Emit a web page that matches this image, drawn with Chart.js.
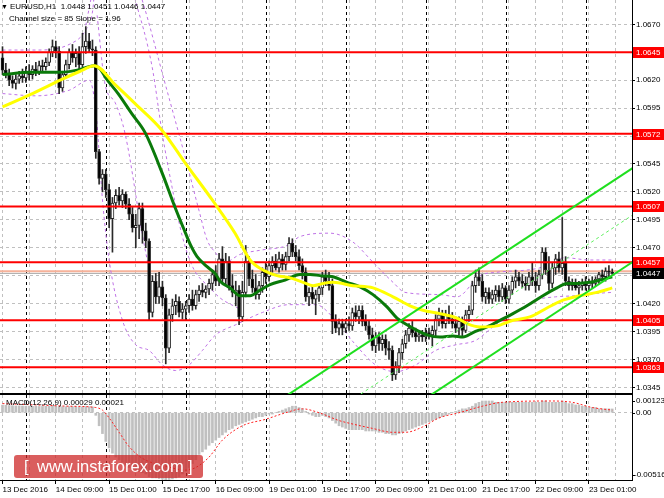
<!DOCTYPE html>
<html><head><meta charset="utf-8">
<script src="https://cdn.jsdelivr.net/npm/chart.js@4.4.0/dist/chart.umd.min.js"></script>
<style>
html,body{margin:0;padding:0;background:#fff;overflow:hidden;}
#wrap{position:relative;width:664px;height:498px;font-family:"Liberation Sans",Arial,sans-serif;}
canvas{position:absolute;left:0;}
#main{top:0;}
#macd{top:394px;}
.t{position:absolute;font-size:8px;line-height:10px;color:#000;white-space:pre;}
#wm{position:absolute;left:14px;top:455px;width:189px;height:23px;border-radius:3px;background:rgba(205,40,40,0.75);color:#fff;font-size:16.5px;line-height:23px;white-space:pre;}
</style></head>
<body><div id="wrap">
<canvas id="main" width="664" height="395"></canvas>
<canvas id="macd" width="664" height="104"></canvas>
<div class="t" style="left:1px;top:2px;font-size:7px;">▼</div>
<div class="t" style="left:10px;top:2px;">EURUSD,H1  1.0448 1.0451 1.0446 1.0447</div>
<div class="t" style="left:9px;top:14px;">Channel size = 85 Slope = 1.96</div>
<div class="t" style="left:6px;top:398px;">MACD(12,26,9) 0.00029 0.00021</div>
<div id="wm"><span style="position:absolute;left:10px;">[</span><span style="position:absolute;left:23px;">www.instaforex.com</span><span style="position:absolute;left:174px;">]</span></div>
</div>
<script>
// ---------- DATA ----------
const opens = [
1.0640,1.0629,1.0626,1.0620,1.0617,1.0621,1.0624,1.0622,1.0628,1.0625,
1.0630,1.0627,1.0633,1.0632,1.0636,1.0645,1.0650,1.0646,1.0613,1.0625,
1.0634,1.0645,1.0640,1.0644,1.0634,1.0650,1.0655,1.0648,1.0647,1.0556,
1.0532,1.0536,1.0522,1.0496,1.0510,1.0517,1.0512,1.0518,1.0509,1.0500,
1.0488,1.0490,1.0505,1.0485,1.0476,1.0412,1.0440,1.0426,1.0435,1.0425,
1.0380,1.0410,1.0418,1.0422,1.0412,1.0415,1.0418,1.0424,1.0418,1.0428,
1.0432,1.0430,1.0433,1.0438,1.0446,1.0440,1.0460,1.0442,1.0458,1.0436,
1.0430,1.0432,1.0408,1.0430,1.0458,1.0442,1.0434,1.0428,1.0436,1.0448,
1.0444,1.0454,1.0458,1.0452,1.0460,1.0455,1.0462,1.0474,1.0466,1.0462,
1.0454,1.0448,1.0426,1.0430,1.0424,1.0428,1.0434,1.0444,1.0440,1.0436,
1.0404,1.0398,1.0402,1.0398,1.0402,1.0400,1.0412,1.0408,1.0414,1.0404,
1.0400,1.0392,1.0382,1.0390,1.0384,1.0388,1.0380,1.0378,1.0356,1.0364,
1.0376,1.0384,1.0392,1.0398,1.0394,1.0390,1.0392,1.0390,1.0394,1.0392,
1.0396,1.0406,1.0410,1.0402,1.0410,1.0406,1.0402,1.0398,1.0404,1.0396,
1.0410,1.0414,1.0436,1.0444,1.0440,1.0426,1.0430,1.0424,1.0428,1.0432,
1.0426,1.0434,1.0424,1.0432,1.0440,1.0444,1.0440,1.0438,1.0436,1.0444,
1.0440,1.0436,1.0446,1.0466,1.0450,1.0438,1.0452,1.0460,1.0452,1.0456,
1.0440,1.0436,1.0438,1.0434,1.0436,1.0438,1.0436,1.0440,1.0438,1.0442,
1.0446,1.0444,1.0449,1.0448];
const highs = [
1.0650,1.0635,1.0630,1.0624,1.0625,1.0628,1.0630,1.0632,1.0634,1.0633,
1.0636,1.0637,1.0638,1.0640,1.0648,1.0656,1.0655,1.0650,1.0628,1.0638,
1.0648,1.0652,1.0648,1.0650,1.0662,1.0668,1.0662,1.0656,1.0650,1.0558,
1.0540,1.0540,1.0527,1.0515,1.0522,1.0524,1.0522,1.0520,1.0514,1.0506,
1.0500,1.0510,1.0510,1.0492,1.0478,1.0445,1.0447,1.0448,1.0440,1.0428,
1.0415,1.0424,1.0428,1.0426,1.0420,1.0422,1.0428,1.0432,1.0432,1.0436,
1.0438,1.0436,1.0442,1.0450,1.0454,1.0465,1.0471,1.0465,1.0462,1.0446,
1.0440,1.0436,1.0440,1.0472,1.0462,1.0450,1.0446,1.0440,1.0452,1.0456,
1.0458,1.0462,1.0464,1.0466,1.0464,1.0466,1.0479,1.0478,1.0472,1.0468,
1.0460,1.0452,1.0434,1.0436,1.0432,1.0438,1.0448,1.0450,1.0448,1.0442,
1.0410,1.0406,1.0406,1.0406,1.0408,1.0416,1.0418,1.0418,1.0418,1.0410,
1.0404,1.0398,1.0394,1.0394,1.0392,1.0392,1.0386,1.0382,1.0368,1.0380,
1.0388,1.0396,1.0402,1.0404,1.0398,1.0396,1.0396,1.0398,1.0398,1.0400,
1.0410,1.0416,1.0414,1.0414,1.0418,1.0412,1.0408,1.0408,1.0408,1.0414,
1.0418,1.0440,1.0450,1.0452,1.0446,1.0434,1.0434,1.0432,1.0436,1.0436,
1.0438,1.0436,1.0436,1.0444,1.0450,1.0448,1.0446,1.0444,1.0448,1.0456,
1.0448,1.0450,1.0470,1.0470,1.0462,1.0456,1.0464,1.0466,1.0497,1.0462,
1.0444,1.0442,1.0442,1.0440,1.0442,1.0444,1.0442,1.0444,1.0444,1.0448,
1.0450,1.0452,1.0454,1.0451];
const lows = [
1.0625,1.0622,1.0615,1.0613,1.0612,1.0617,1.0618,1.0618,1.0620,1.0621,
1.0624,1.0625,1.0628,1.0629,1.0633,1.0641,1.0640,1.0608,1.0610,1.0622,
1.0630,1.0636,1.0632,1.0630,1.0632,1.0644,1.0645,1.0642,1.0550,1.0527,
1.0520,1.0515,1.0488,1.0466,1.0505,1.0508,1.0506,1.0505,1.0495,1.0484,
1.0470,1.0478,1.0474,1.0470,1.0405,1.0408,1.0420,1.0420,1.0418,1.0366,
1.0376,1.0404,1.0410,1.0408,1.0406,1.0405,1.0412,1.0414,1.0415,1.0422,
1.0426,1.0425,1.0428,1.0432,1.0436,1.0436,1.0438,1.0436,1.0432,1.0426,
1.0418,1.0401,1.0404,1.0426,1.0436,1.0430,1.0424,1.0424,1.0430,1.0438,
1.0440,1.0448,1.0450,1.0448,1.0450,1.0450,1.0458,1.0462,1.0458,1.0450,
1.0442,1.0422,1.0418,1.0420,1.0410,1.0422,1.0428,1.0436,1.0432,1.0393,
1.0394,1.0392,1.0392,1.0394,1.0396,1.0396,1.0404,1.0402,1.0400,1.0396,
1.0388,1.0378,1.0376,1.0378,1.0378,1.0374,1.0370,1.0351,1.0352,1.0358,
1.0370,1.0380,1.0386,1.0390,1.0386,1.0386,1.0386,1.0386,1.0388,1.0382,
1.0390,1.0400,1.0398,1.0398,1.0402,1.0398,1.0394,1.0392,1.0390,1.0394,
1.0404,1.0410,1.0430,1.0436,1.0422,1.0420,1.0420,1.0420,1.0422,1.0422,
1.0422,1.0420,1.0420,1.0428,1.0434,1.0436,1.0434,1.0432,1.0432,1.0436,
1.0430,1.0432,1.0442,1.0446,1.0432,1.0434,1.0446,1.0448,1.0446,1.0436,
1.0432,1.0432,1.0432,1.0428,1.0432,1.0432,1.0432,1.0434,1.0436,1.0438,
1.0440,1.0440,1.0444,1.0446];
const closes = [
1.0629,1.0626,1.0620,1.0617,1.0621,1.0624,1.0622,1.0628,1.0625,1.0630,
1.0627,1.0633,1.0632,1.0636,1.0645,1.0650,1.0646,1.0613,1.0625,1.0634,
1.0645,1.0640,1.0644,1.0634,1.0650,1.0655,1.0648,1.0647,1.0556,1.0532,
1.0536,1.0522,1.0496,1.0510,1.0517,1.0512,1.0518,1.0509,1.0500,1.0488,
1.0490,1.0505,1.0485,1.0476,1.0412,1.0440,1.0426,1.0435,1.0425,1.0380,
1.0410,1.0418,1.0422,1.0412,1.0415,1.0418,1.0424,1.0418,1.0428,1.0432,
1.0430,1.0433,1.0438,1.0446,1.0440,1.0460,1.0442,1.0458,1.0436,1.0430,
1.0432,1.0408,1.0430,1.0458,1.0442,1.0434,1.0428,1.0436,1.0448,1.0444,
1.0454,1.0458,1.0452,1.0460,1.0455,1.0462,1.0474,1.0466,1.0462,1.0454,
1.0448,1.0426,1.0430,1.0424,1.0428,1.0434,1.0444,1.0440,1.0436,1.0404,
1.0398,1.0402,1.0398,1.0402,1.0400,1.0412,1.0408,1.0414,1.0404,1.0400,
1.0392,1.0382,1.0390,1.0384,1.0388,1.0380,1.0378,1.0356,1.0364,1.0376,
1.0384,1.0392,1.0398,1.0394,1.0390,1.0392,1.0390,1.0394,1.0392,1.0396,
1.0406,1.0410,1.0402,1.0410,1.0406,1.0402,1.0398,1.0404,1.0396,1.0410,
1.0414,1.0436,1.0444,1.0440,1.0426,1.0430,1.0424,1.0428,1.0432,1.0426,
1.0434,1.0424,1.0432,1.0440,1.0444,1.0440,1.0438,1.0436,1.0444,1.0440,
1.0436,1.0446,1.0466,1.0450,1.0438,1.0452,1.0460,1.0452,1.0456,1.0440,
1.0436,1.0438,1.0434,1.0436,1.0438,1.0436,1.0440,1.0438,1.0442,1.0446,
1.0444,1.0449,1.0448,1.0447];

const xTickBars = [0,16,32,48,64,80,96,112,128,144,160,176];
const xTickLabels = ['13 Dec 2016','14 Dec 09:00','15 Dec 01:00','15 Dec 17:00','16 Dec 09:00','19 Dec 01:00',
  '19 Dec 17:00','20 Dec 09:00','21 Dec 01:00','21 Dec 17:00','22 Dec 09:00','23 Dec 01:00'];
const daySeparators = [7,31,55,79,103,127,151,175];
const priceTicks = [1.0345,1.0370,1.0395,1.0420,1.0445,1.0470,1.0495,1.0520,1.0545,1.0570,1.0595,1.0620,1.0645,1.0670];
const levels = [1.0645,1.0572,1.0507,1.0457,1.0405,1.0363];
const bidPrice = 1.0447;
const askPrice = 1.0449;

const maGreen = [[0,1.0625],[8.3,1.0627],[17.3,1.0627],[22.4,1.0629],[27.5,1.0633],[29.3,1.0630],[31,1.0622],[34.7,1.0608],
 [38.8,1.0590],[42.8,1.0573],[47.9,1.0537],[51.8,1.0506],[54.8,1.0484],[56.5,1.0472],[58.4,1.0462],[61.4,1.0453],
 [63.8,1.0447],[65.3,1.0440],[68.3,1.0434],[71.3,1.0427],[74.3,1.0427],[77.3,1.0432],[80.3,1.0437],[84.8,1.0441],[89.3,1.0446],
 [92.3,1.0446],[95.3,1.0445],[99.2,1.0444],[103.4,1.0439],[107.3,1.0435],[111.2,1.0428],[115.4,1.0417],[118.4,1.0407],[121.4,1.0401],
 [124.4,1.0396],[127.4,1.0392],[131.3,1.0390],[135.2,1.0391],[138.2,1.0390],[141.2,1.0394],[145.4,1.0399],[149.3,1.0405],[153.2,1.0411],
 [157.4,1.0418],[162.2,1.0427],[166.4,1.0434],[169.4,1.0438],[172.4,1.0438],[176.3,1.0439],[179.3,1.0441],[183,1.0444]];
const maYellow = [[0,1.0596],[8.3,1.0607],[17.3,1.0620],[23.3,1.0628],[27.5,1.0633],[33.8,1.0616],[39.8,1.0599],[47.9,1.0575],
 [54.8,1.0546],[62.9,1.0513],[69.8,1.0483],[74.3,1.0459],[78.2,1.0450],[82.4,1.0445],[86.3,1.0443],
 [90.2,1.0439],[93.2,1.0436],[96.2,1.0438],[99.2,1.0439],[105.2,1.0436],[111.2,1.0434],[117.2,1.0426],[122.3,1.0418],[126.2,1.0414],
 [131.3,1.0411],[136.4,1.0407],[139.4,1.0402],[143.3,1.0399],[148.4,1.0400],[153.2,1.0405],[158.3,1.0408],[163.4,1.0416],
 [168.2,1.0423],[173.3,1.0427],[178.4,1.0430],[183,1.0434]];
const bandUpper = [[0,1.0647],[10,1.0647],[20,1.0652],[25,1.0665],[27,1.0681],[28,1.0710],[32,1.0740],[38,1.0725],[41.9,1.0692],
 [48.8,1.0617],[55.1,1.0548],[59.0,1.0503],[61.4,1.0477],[63.8,1.0466],[66.8,1.0457],[71.3,1.0464],[77.9,1.0468],
 [85.4,1.0472],[89.3,1.0480],[98.3,1.0483],[105.2,1.0475],[111.2,1.0457],[117.2,1.0439],[120.8,1.0430],[131.3,1.0428],[136.4,1.0426],
 [143.3,1.0445],[148.4,1.0448],[157.4,1.0450],[161.3,1.0452],[168.8,1.0461],[176.3,1.0459],[183,1.0459]];
const bandUpper2 = [[25,1.0669],[26.5,1.0692],[29,1.0730],[34,1.0745],[39.8,1.0692],[44.9,1.0632],[47.9,1.0573],[50.9,1.0524],
 [53.9,1.0481],[57.2,1.0452],[62.3,1.0434],[65.3,1.0425],[71.3,1.0415]];
const bandInner = [[28.4,1.0678],[30.8,1.0616],[33.8,1.0600],[36.8,1.0572],[41.9,1.0483],[44,1.0450]];
const bandLower = [[0,1.0608],[10,1.0606],[20,1.0611],[26,1.0620],[28,1.0593],[30,1.0513],[32,1.0459],[36,1.0405],[40,1.0383],
 [44,1.0378],[48,1.0365],[52,1.0360],[56,1.0365],[60,1.0378],[64,1.0392],[70,1.0401],[78,1.0412],[86,1.0419],[94,1.0419],
 [100,1.0405],[106,1.0383],[112,1.0365],[118,1.0359],[124,1.0365],[130,1.0378],[136,1.0383],[142,1.0387],[148,1.0401],
 [154,1.0412],[160,1.0423],[166,1.0426],[172,1.0427],[178,1.0429],[183,1.0430]];
const channelUpper = [[84,1.0335],[190,1.0543]];
const channelMid = [[106,1.0336],[190,1.0501]];
const channelLower = [[128,1.0337],[190,1.0459]];

const macdHist = [
0.00058,0.00057,0.00055,0.00054,0.00052,0.00052,0.00051,0.00050,0.00050,0.00049,
0.00049,0.00048,0.00048,0.00049,0.00051,0.00053,0.00052,0.00047,0.00046,0.00046,
0.00047,0.00047,0.00046,0.00044,0.00045,0.00047,0.00046,0.00044,-0.00020,-0.00100,
-0.00160,-0.00220,-0.00270,-0.00310,-0.00340,-0.00360,-0.00380,-0.00400,-0.00420,-0.00430,
-0.00440,-0.00450,-0.00460,-0.00470,-0.00490,-0.00500,-0.00500,-0.00505,-0.00510,-0.00516,
-0.00512,-0.00508,-0.00500,-0.00490,-0.00470,-0.00450,-0.00420,-0.00390,-0.00360,-0.00320,
-0.00300,-0.00280,-0.00250,-0.00230,-0.00210,-0.00190,-0.00170,-0.00150,-0.00130,-0.00120,
-0.00100,-0.00090,-0.00080,-0.00070,-0.00060,-0.00050,-0.00040,-0.00030,-0.00030,-0.00020,
-0.00010,-0.00010,0.00000,0.00010,0.00020,0.00030,0.00040,0.00050,0.00050,0.00040,
0.00030,0.00010,-0.00010,-0.00020,-0.00030,-0.00030,-0.00020,-0.00030,-0.00040,-0.00060,
-0.00080,-0.00100,-0.00110,-0.00120,-0.00130,-0.00130,-0.00130,-0.00130,-0.00130,-0.00140,
-0.00140,-0.00140,-0.00140,-0.00150,-0.00150,-0.00160,-0.00160,-0.00170,-0.00170,-0.00160,
-0.00150,-0.00140,-0.00130,-0.00120,-0.00110,-0.00100,-0.00090,-0.00080,-0.00070,-0.00060,
-0.00050,-0.00040,-0.00030,-0.00020,-0.00010,0.00000,0.00010,0.00020,0.00030,0.00030,
0.00040,0.00050,0.00070,0.00080,0.00090,0.00090,0.00090,0.00090,0.00080,0.00080,
0.00080,0.00080,0.00080,0.00080,0.00080,0.00080,0.00080,0.00080,0.00080,0.00080,
0.00080,0.00080,0.00090,0.00090,0.00080,0.00080,0.00080,0.00080,0.00090,0.00080,
0.00070,0.00070,0.00060,0.00060,0.00050,0.00050,0.00040,0.00040,0.00040,0.00030,
0.00030,0.00030,0.00030,0.00029];
const macdSignal = [[0,0.0007],[10,0.0006],[20,0.0005],[28,0.0004],[30,0.0002],[32,-0.0004],[35,-0.0015],[38,-0.0026],
 [42,-0.0035],[49,-0.0041],[55,-0.0044],[58,-0.0042],[62,-0.0034],[66,-0.0021],[72,-0.0010],[79,-0.0005],[85,0.0000],
 [90,0.0003],[95,0.0000],[101,-0.0006],[104,-0.0008],[111,-0.0012],[117,-0.0015],[121,-0.0015],[126,-0.0011],[131,-0.0004],
 [137,0.0000],[144,0.0005],[150,0.0008],[165,0.0009],[171,0.0008],[177,0.0004],[183,0.0002]];
const macdAxisValues = [0.00123, 0, -0.00516];

// ---------- LAYOUT CONSTANTS ----------
const XMIN = -0.75, XMAX = 188.93;
const YMIN = 1.0339, YMAX = 1.06918;
const MMIN = -0.00516, MMAX = 0.00136;
const gridBars = [];
for (let b = 0; b <= 184; b += 8) gridBars.push(b);

Chart.defaults.font.family = '"Liberation Sans", Arial, sans-serif';
Chart.defaults.font.size = 8;
Chart.defaults.color = '#000';

const daySepPlugin = {
  id: 'daysep',
  beforeDatasetsDraw(chart) {
    const {ctx, chartArea: a, scales: {x}} = chart;
    ctx.save();
    ctx.strokeStyle = '#000'; ctx.lineWidth = 1; ctx.setLineDash([3, 3]);
    daySeparators.forEach(b => {
      const px = Math.round(x.getPixelForValue(b)) + 0.5;
      ctx.beginPath(); ctx.moveTo(px, a.top); ctx.lineTo(px, a.bottom); ctx.stroke();
    });
    ctx.restore();
  }
};

const priceLabelPlugin = {
  id: 'pricelabels',
  afterDraw(chart) {
    const {ctx, chartArea: a, scales: {y}} = chart;
    const left = a.right + 1;
    ctx.save();
    ctx.font = '8px "Liberation Sans"';
    ctx.textBaseline = 'middle';
    levels.forEach(l => {
      const py = Math.round(y.getPixelForValue(l));
      ctx.fillStyle = '#ff0000'; ctx.fillRect(left, py - 5, 664 - left, 11);
      ctx.fillStyle = '#fff'; ctx.fillText(l.toFixed(4), left + 3, py + 0.5);
    });
    const pb = Math.round(y.getPixelForValue(bidPrice));
    ctx.fillStyle = '#000'; ctx.fillRect(left, pb - 5, 664 - left, 11);
    ctx.fillStyle = '#fff'; ctx.fillText(bidPrice.toFixed(4), left + 3, pb + 0.5);
    ctx.restore();
  }
};

const macdLabelPlugin = {
  id: 'macdlabels',
  afterDraw(chart) {
    const {ctx, chartArea: a, scales: {y}} = chart;
    ctx.save();
    ctx.font = '8px "Liberation Sans"';
    ctx.textBaseline = 'middle';
    ctx.fillStyle = '#000';
    macdAxisValues.forEach(v => {
      let py = y.getPixelForValue(v);
      py = Math.min(Math.max(py, a.top + 6), a.bottom - 5);
      const txt = v === 0 ? '0.00' : v.toFixed(5);
      ctx.fillText(txt, a.right + (v < 0 ? 2 : 4), py);
      ctx.fillRect(a.right, Math.round(py), 3, 1);
    });
    ctx.restore();
  }
};

const lineDS = (pts, color, width, dash, order, extra) => Object.assign({
  type: 'line', data: pts.map(p => ({x: p[0], y: p[1]})), borderColor: color, borderWidth: width,
  borderDash: dash || [], pointRadius: 0, fill: false, tension: 0.4, cubicInterpolationMode: 'monotone', order: order
}, extra || {});

const idx = closes.map((_, i) => i);
const datasets = [];
levels.forEach(l => datasets.push(lineDS([[XMIN, l], [XMAX, l]], '#ff0000', 2, null, 3, {tension: 0})));
datasets.push(lineDS([[XMIN, askPrice], [XMAX, askPrice]], '#f6b29a', 2, null, 9, {tension: 0}));
datasets.push(lineDS([[XMIN, bidPrice], [XMAX, bidPrice]], '#a8a8a8', 1, null, 9, {tension: 0}));
const bandColor = '#bf72e6';
datasets.push(lineDS(bandUpper, bandColor, 1, [3, 3], 8));
datasets.push(lineDS(bandUpper2, bandColor, 1, [3, 3], 8));
datasets.push(lineDS(bandInner, bandColor, 1, [3, 3], 8));
datasets.push(lineDS(bandLower, bandColor, 1, [3, 3], 8));
datasets.push({
  type: 'bar', data: idx.map(i => ({x: i, y: [lows[i], highs[i]]})), backgroundColor: '#2a2a2a',
  maxBarThickness: 1, barPercentage: 1, categoryPercentage: 1, grouped: false, order: 6
});
datasets.push({
  type: 'bar', data: idx.map(i => ({x: i, y: [opens[i], closes[i]]})),
  backgroundColor: idx.map(i => closes[i] >= opens[i] ? '#ffffff' : '#000000'),
  borderColor: '#222', borderWidth: 1, borderSkipped: false,
  maxBarThickness: 3, barPercentage: 1, categoryPercentage: 1, grouped: false, order: 5
});
datasets.push(lineDS(maYellow, '#ffff00', 3, null, 2));
datasets.push(lineDS(maGreen, '#0a7a0a', 3, null, 2));
datasets.push(lineDS(channelMid, '#5cef5c', 1, [3, 3], 1, {tension: 0}));
datasets.push(lineDS(channelUpper, '#1fdf1f', 2, null, 1, {tension: 0}));
datasets.push(lineDS(channelLower, '#1fdf1f', 2, null, 1, {tension: 0}));

new Chart(document.getElementById('main'), {
  type: 'bar',
  data: {datasets},
  options: {
    responsive: false, animation: false, devicePixelRatio: 1,
    layout: {padding: 0},
    plugins: {legend: {display: false}, tooltip: {enabled: false}},
    scales: {
      x: {
        type: 'linear', min: XMIN, max: XMAX, offset: false,
        afterBuildTicks: s => { s.ticks = gridBars.map(v => ({value: v})); },
        ticks: {display: false},
        grid: {offset: false, color: '#c0c0c0', drawTicks: false},
        border: {display: true, color: '#000', width: 2, dash: [3, 3]},
        afterFit: s => { s.height = 1; s.paddingLeft = 0; s.paddingRight = 0; }
      },
      y: {
        position: 'right', min: YMIN, max: YMAX,
        afterBuildTicks: s => { s.ticks = priceTicks.map(v => ({value: v})); },
        ticks: {callback: v => Number(v).toFixed(4), padding: 1, autoSkip: false, font: {size: 8}, color: '#000'},
        grid: {color: '#c0c0c0', tickColor: '#000', tickLength: 3},
        border: {display: true, color: '#000', width: 1, dash: [3, 3]},
        afterFit: s => { s.width = 32; s.paddingTop = 0; s.paddingBottom = 0; }
      }
    }
  },
  plugins: [daySepPlugin, priceLabelPlugin]
});

new Chart(document.getElementById('macd'), {
  type: 'bar',
  data: {datasets: [
    lineDS(macdSignal, '#ff2020', 1, [2, 2], 1),
    {type: 'bar', data: macdHist.map((v, i) => ({x: i, y: v})), backgroundColor: '#c0c0c0',
     maxBarThickness: 2, barPercentage: 1, categoryPercentage: 1, grouped: false, order: 2}
  ]},
  options: {
    responsive: false, animation: false, devicePixelRatio: 1,
    layout: {padding: {top: 1, left: 0, right: 0, bottom: 0}},
    plugins: {legend: {display: false}, tooltip: {enabled: false}},
    scales: {
      x: {
        type: 'linear', min: XMIN, max: XMAX, offset: false,
        afterBuildTicks: s => { s.ticks = gridBars.map(v => ({value: v})); },
        ticks: {
          autoSkip: false, maxRotation: 0, minRotation: 0, align: 'start', padding: 1, font: {size: 8}, color: '#000',
          callback: v => { const k = xTickBars.indexOf(v); return k >= 0 ? xTickLabels[k] : ''; }
        },
        grid: {offset: false, color: '#c0c0c0', tickLength: 4,
          tickColor: c => (c.tick && xTickBars.includes(c.tick.value)) ? '#000' : 'rgba(0,0,0,0)'},
        border: {display: true, color: '#000', width: 1, dash: [3, 3]},
        afterFit: s => { s.height = 18; s.paddingLeft = 0; s.paddingRight = 0; }
      },
      y: {
        position: 'right', min: MMIN, max: MMAX,
        afterBuildTicks: s => { s.ticks = [{value: 0}]; },
        ticks: {display: false},
        grid: {color: '#c0c0c0', drawTicks: false},
        border: {display: true, color: '#000', width: 1, dash: [3, 3]},
        afterFit: s => { s.width = 32; s.paddingTop = 0; s.paddingBottom = 0; }
      }
    }
  },
  plugins: [daySepPlugin, macdLabelPlugin]
});
</script>
</body></html>
